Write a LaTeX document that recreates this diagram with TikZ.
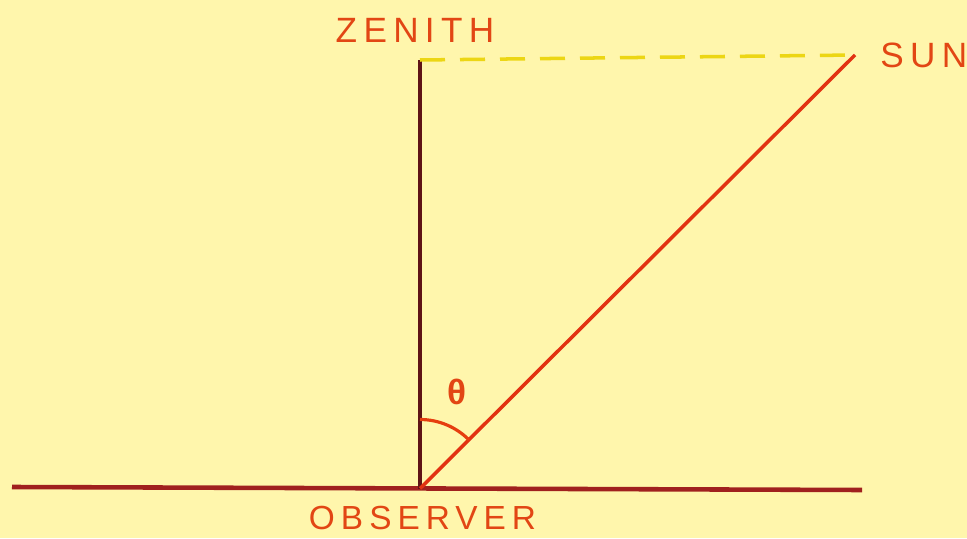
\documentclass[tikz,border=0pt]{standalone}
\usepackage{fontspec}
\setmainfont{Liberation Sans}
\newfontfamily\spacedfont[LetterSpace=18]{Liberation Sans}
\usetikzlibrary{positioning}
\definecolor{paper}{RGB}{255,246,172}
\definecolor{labelred}{RGB}{226,70,20}
\definecolor{rayred}{RGB}{226,50,18}
\definecolor{maroon}{RGB}{95,20,22}
\definecolor{groundred}{RGB}{160,32,30}
\definecolor{dashyellow}{RGB}{236,214,20}

\begin{document}
\begin{tikzpicture}[
  lbl/.style={font=\spacedfont\fontsize{20}{24}\selectfont,text=labelred,inner sep=0pt},
  ground/.style={draw=groundred,line width=2.6pt},
  vert/.style={draw=maroon,line width=2.2pt},
  ray/.style={draw=rayred,line width=2pt},
  skyline/.style={draw=dashyellow,line width=2pt,dash pattern=on 0.5cm off 0.3cm},
  anglearc/.style={draw=rayred!85!orange,line width=1.8pt}]
  \fill[paper] (0,0) rectangle (19.34,10.76);
  \useasboundingbox (0,0) rectangle (19.34,10.76);
  \coordinate (gl) at (0.24,1.02);
  \coordinate (gr) at (17.24,0.96);
  \coordinate (obs) at (8.40,0.99);
  \coordinate (zen) at (8.40,9.56);
  \coordinate (sun) at (17.10,9.66);
  \draw[ground] (gl) -- (gr);
  \draw[vert] (obs) -- (zen);
  \draw[skyline] (zen) -- (sun);
  \draw[ray] (obs) -- (sun);
  \draw[anglearc] (obs) ++(90:1.38) arc[start angle=90,end angle=44.7,radius=1.38];
  \node[lbl,above=0.34 of zen,xshift=-0.1cm] (zenlbl) {ZENITH};
  \node[lbl,right=0.5 of sun] (sunlbl) {SUN};
  \node[lbl,below=0.34 of obs,xshift=0.05cm,font=\spacedfont\fontsize{19}{22}\selectfont] (obslbl) {OBSERVER};
  \node[lbl,font=\bfseries\fontsize{20}{22}\selectfont] (theta) at (9.14,2.92) {θ};
\end{tikzpicture}
\end{document}
